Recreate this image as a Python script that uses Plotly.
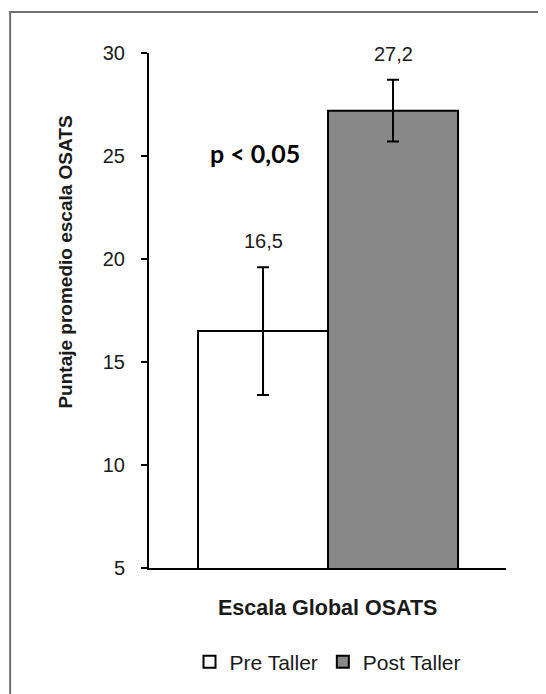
import plotly.graph_objects as go

# ---- data ----
series_names = ["Pre Taller", "Post Taller"]
means = [16.5, 27.2]
errors = [3.1, 1.5]
mean_labels = ["16,5", "27,2"]
category = "Escala Global OSATS"
y_title = "Puntaje promedio escala OSATS"
p_text = "p < 0,05"
y_ticks = [5, 10, 15, 20, 25, 30]

fills = ["#ffffff", "#888888"]
FONT = "Liberation Sans, Arial, sans-serif"
TXT = "#1a1a1a"

fig = go.Figure()
for i, (name, m, e, c) in enumerate(zip(series_names, means, errors, fills)):
    fig.add_trace(go.Bar(
        x=[i], y=[m], name=name, width=1,
        marker=dict(color=c, line=dict(color="#000000", width=2)),
        error_y=dict(type="data", array=[e], visible=True,
                     color="#000000", thickness=2, width=6),
    ))

annotations = []
for i, (m, e, lab) in enumerate(zip(means, errors, mean_labels)):
    annotations.append(dict(x=i, y=m + e, xref="x", yref="y", text=lab,
                            showarrow=False, yanchor="bottom", yshift=13,
                            font=dict(family=FONT, size=20, color=TXT)))

annotations.append(dict(x=0.298, y=0.806, xref="paper", yref="paper",
                        text="<b>" + p_text + "</b>", showarrow=False,
                        xanchor="center", yanchor="middle",
                        font=dict(family="Lato, Open Sans, sans-serif", size=25, color="#000000")))
annotations.append(dict(x=-0.234, y=0.594, xref="paper", yref="paper",
                        text="<b>" + y_title + "</b>", textangle=-90, showarrow=False,
                        xanchor="center", yanchor="middle",
                        font=dict(family=FONT, size=19, color=TXT)))
annotations.append(dict(x=0.5, y=-0.078, xref="paper", yref="paper",
                        text="<b>" + category + "</b>", showarrow=False,
                        xanchor="center", yanchor="middle",
                        font=dict(family=FONT, size=21.5, color=TXT)))

fig.update_layout(
    width=538, height=686,
    margin=dict(l=141, r=40, t=45, b=126),
    paper_bgcolor="#ffffff", plot_bgcolor="#ffffff",
    showlegend=True,
    legend=dict(orientation="h", x=0.5, xanchor="center", y=-0.1825, yanchor="middle",
                font=dict(family=FONT, size=21, color=TXT), traceorder="normal",
                itemwidth=30),
    xaxis=dict(range=[-0.877, 1.869], showline=True, linecolor="#000000", linewidth=2,
               showticklabels=False, ticks="", showgrid=False, zeroline=False),
    yaxis=dict(range=[5, 30], tickvals=y_ticks, showline=True, linecolor="#000000",
               linewidth=2, ticks="outside", ticklen=6, tickwidth=2, tickcolor="#000000",
               showgrid=False, zeroline=False, ticklabelstandoff=12,
               tickfont=dict(family=FONT, size=20, color=TXT)),
    annotations=annotations,
    shapes=[dict(type="rect", xref="paper", yref="paper",
                 x0=-0.389, x1=1.5, y0=-0.5, y1=1.0796,
                 line=dict(color="#707070", width=2), fillcolor="rgba(0,0,0,0)",
                 layer="below")],
)

fig.write_html("out.html")
